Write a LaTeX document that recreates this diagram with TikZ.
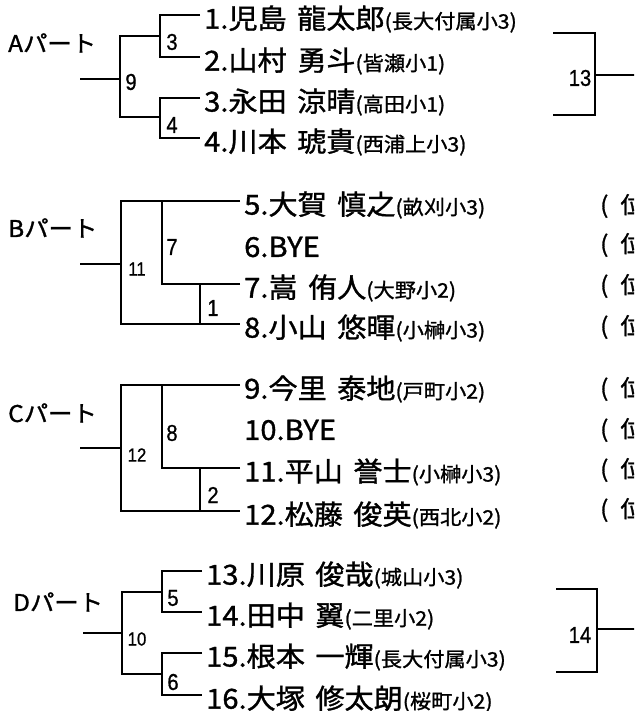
\documentclass[tikz,border=0pt]{standalone}
\usepackage{fontspec}
\setmainfont{Noto Sans CJK JP}[FakeStretch=1.06, FakeBold=1.2]
\newfontfamily\numfont[FakeStretch=0.88, FakeBold=0.8]{Liberation Sans}
\usepackage{tikz}
\usetikzlibrary{calc}

\newcommand{\sch}[1]{{\fontsize{20}{22}\selectfont(#1)}}
\newcommand{\nsp}{\hspace{.38em}}

\tikzset{
	bracket/.style={line width=2.8pt},
	player/.style={anchor=west, inner sep=0pt, xshift=4pt, yshift=-4pt, font=\fontsize{27.5}{30}\selectfont},
	part/.style={anchor=west, inner sep=0pt, font=\fontsize{23}{26}\selectfont},
	matchno/.style={inner sep=0pt, font=\numfont\fontsize{23}{25}\selectfont},
	smallno/.style={matchno, font=\numfont\fontsize{19}{21}\selectfont},
	rank/.style={anchor=west, inner sep=0pt, font=\fontsize{23}{25}\selectfont}
}

\begin{document}
\begin{tikzpicture}[x=1pt, y=-1pt]
			\useasboundingbox (0,0) rectangle (634,711);
			\clip (0,0) rectangle (634,711);

			\begin{scope}
				\coordinate (a0) at (80,79);
				\coordinate (m9) at (120,79);
				\coordinate (m3) at (160,36);
				\coordinate (m4) at (160,117);
				\coordinate (l1) at (200,15);
				\coordinate (l2) at (200,57);
				\coordinate (l3) at (200,98);
				\coordinate (l4) at (200,138);

				\draw[bracket] (l1) -| (m3) |- (l2);
				\draw[bracket] (l3) -| (m4) |- (l4);
				\draw[bracket] (m3) -| (m9) |- (m4);
				\draw[bracket] (a0) -- (m9);

				\node[part] (partA) at (8,43) {Aパート};
				\node[matchno] (g3) at (172,42) {3};
				\node[matchno] (g9) at (131,82) {9};
				\node[matchno] (g4) at (172,125) {4};

				\node[player] (p1) at (l1) {1.児島\nsp 龍太郎\sch{長大付属小3}};
				\node[player] (p2) at (l2) {2.山村\nsp 勇斗\sch{皆瀬小1}};
				\node[player] (p3) at (l3) {3.永田\nsp 涼晴\sch{高田小1}};
				\node[player] (p4) at (l4) {4.川本\nsp 琥貴\sch{西浦上小3}};
			\end{scope}

			\begin{scope}
				\coordinate (b0) at (80,264);
				\coordinate (m11) at (121,264);
				\coordinate (m7) at (162,243);
				\coordinate (m1) at (200,304);
				\coordinate (l5) at (240,201);
				\coordinate (l6) at (240,243);
				\coordinate (l7) at (240,284);
				\coordinate (l8) at (240,324);

				\draw[bracket] (l5) -| (m11) |- (l8);
				\draw[bracket] (l7) -| (m7) |- (l5);
				\draw[bracket] (l7 -| m1) -- (l8 -| m1);
				\draw[bracket] (b0) -- (m11);

				\node[part] (partB) at (8,228) {Bパート};
				\node[matchno] (g7) at (172,247) {7};
				\node[smallno] (g11) at (137,269) {11};
				\node[matchno] (g1) at (213,308) {1};

				\node[player] (p5) at (l5) {5.大賀\nsp 慎之\sch{畝刈小3}};
				\node[player] (p6) at (l6) {6.BYE};
				\node[player] (p7) at (l7) {7.嵩\nsp 侑人\sch{大野小2}};
				\node[player] (p8) at (l8) {8.小山\nsp 悠暉\sch{小榊小3}};
			\end{scope}

			\begin{scope}
				\coordinate (c0) at (80,448);
				\coordinate (m12) at (121,448);
				\coordinate (m8) at (162,426);
				\coordinate (m2) at (200,490);
				\coordinate (l9) at (240,385);
				\coordinate (l10) at (240,426);
				\coordinate (l11) at (240,468);
				\coordinate (l12) at (240,511);

				\draw[bracket] (l9) -| (m12) |- (l12);
				\draw[bracket] (l11) -| (m8) |- (l9);
				\draw[bracket] (l11 -| m2) -- (l12 -| m2);
				\draw[bracket] (c0) -- (m12);

				\node[part] (partC) at (8,413) {Cパート};
				\node[matchno] (g8) at (172,433) {8};
				\node[smallno] (g12) at (137,455) {12};
				\node[matchno] (g2) at (213,495) {2};

				\node[player] (p9) at (l9) {9.今里\nsp 泰地\sch{戸町小2}};
				\node[player] (p10) at (l10) {10.BYE};
				\node[player] (p11) at (l11) {11.平山\nsp 誉士\sch{小榊小3}};
				\node[player] (p12) at (l12) {12.松藤\nsp 俊英\sch{西北小2}};
			\end{scope}

			\begin{scope}
				\coordinate (d0) at (83,633);
				\coordinate (m10) at (122,633);
				\coordinate (m5) at (162,592);
				\coordinate (m6) at (162,674);
				\coordinate (l13) at (202,571);
				\coordinate (l14) at (202,612);
				\coordinate (l15) at (202,653);
				\coordinate (l16) at (202,695);

				\draw[bracket] (l13) -| (m5) |- (l14);
				\draw[bracket] (l15) -| (m6) |- (l16);
				\draw[bracket] (m5) -| (m10) |- (m6);
				\draw[bracket] (d0) -- (m10);

				\node[part] (partD) at (13,602) {Dパート};
				\node[matchno] (g5) at (173,598) {5};
				\node[smallno] (g10) at (137,639) {10};
				\node[matchno] (g6) at (173,682) {6};

				\node[player] (p13) at (l13) {13.川原\nsp 俊哉\sch{城山小3}};
				\node[player] (p14) at (l14) {14.田中\nsp 翼\sch{二里小2}};
				\node[player] (p15) at (l15) {15.根本\nsp 一輝\sch{長大付属小3}};
				\node[player] (p16) at (l16) {16.大塚\nsp 修太朗\sch{桜町小2}};
			\end{scope}

			\begin{scope}
				\coordinate (r13a) at (553,33);
				\coordinate (r13b) at (553,115);
				\coordinate (m13) at (595,75);
				\coordinate (o13) at (640,75);
				\coordinate (r14a) at (556,589);
				\coordinate (r14b) at (556,672);
				\coordinate (m14) at (597,629);
				\coordinate (o14) at (640,629);

				\draw[bracket] (r13a) -| (m13) |- (r13b);
				\draw[bracket] (m13) -- (o13);
				\draw[bracket] (r14a) -| (m14) |- (r14b);
				\draw[bracket] (m14) -- (o14);

				\node[matchno] (g13) at (580,78) {13};
				\node[matchno] (g14) at (580,635) {14};
			\end{scope}

			\begin{scope}
				\foreach \yy [count=\k] in {206,245,286,327,389,430,470,510}
				{
					\node[rank] (rk\k) at (600,\yy) {(\hspace{12pt}位};
				}
			\end{scope}
		\end{tikzpicture}
\end{document}
